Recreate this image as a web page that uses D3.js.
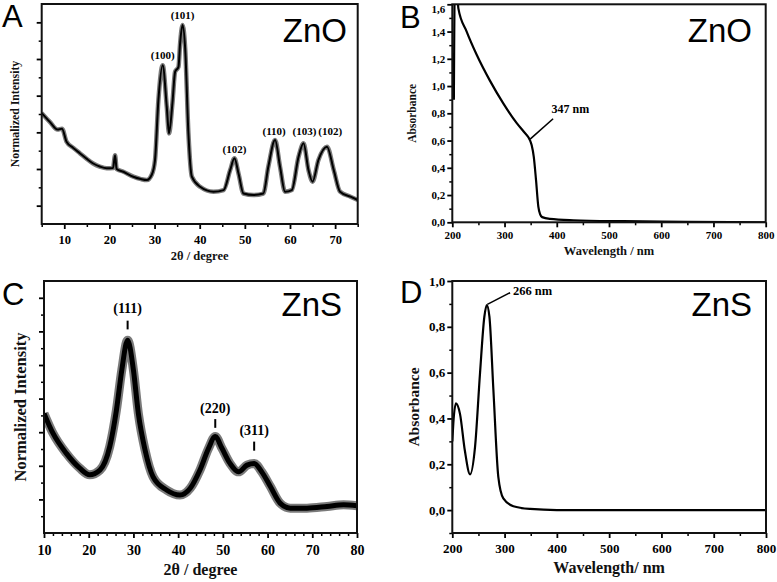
<!DOCTYPE html>
<html>
<head>
<meta charset="utf-8">
<script src="https://cdn.jsdelivr.net/npm/d3@7"></script>
<style>
  body { margin: 0; background: #fff; }
  svg { display: block; }
</style>
</head>
<body>
<div id="chart"></div>
<script>
// Panel A: XRD ZnO
const znoAngle = [5, 6.8, 8.5, 9.5, 10.5, 12, 13.5, 15, 16.4, 18, 19.4, 20.8, 21.25, 21.6, 23.1, 25.3, 27, 28.3, 29.4, 30.1, 30.85, 31.8, 32.7, 33.2, 33.96, 34.55, 35.3, 35.66, 36.2, 36.8, 37.5, 38.26, 40.1, 43.05, 45.3, 46.75, 47.7, 48.6, 49.7, 51.9, 54.1, 55.2, 56.7, 57.8, 58.9, 60.4, 61.9, 63.0, 64.1, 65.0, 66.3, 68.2, 69.7, 71.1, 73.4, 75];
const znoIntensity = [6.05, 5.57, 5.15, 5.2, 4.49, 4.15, 3.85, 3.55, 3.3, 3.12, 3.04, 3.05, 3.75, 3.0, 2.85, 2.58, 2.45, 2.4, 2.7, 3.49, 6.76, 8.66, 6.4, 4.94, 6.6, 8.3, 8.57, 9.85, 10.85, 9.5, 4.94, 2.58, 2.03, 1.76, 1.85, 2.94, 3.58, 2.75, 1.66, 1.58, 1.66, 3.12, 4.58, 3.12, 1.76, 1.85, 3.67, 4.4, 2.94, 2.31, 3.49, 4.22, 2.94, 1.76, 1.49, 1.31];
const znoPeakNames = ["(100)", "(101)", "(102)", "(110)", "(103)", "(102)"];
const znoPeakAngle = [31.8, 36.2, 47.7, 56.5, 63.2, 68.9];
const znoPeakLabelY = [9.0, 11.17, 3.87, 4.85, 4.85, 4.85];

// Panel B: UV-Vis ZnO
const znoWavelength = [203, 205, 208, 211.6, 227.5, 246.7, 272, 297.6, 323, 337, 346, 349, 352, 356, 360.3, 364.7, 368, 372, 387, 431.7, 527.5, 650, 800];
const znoAbsorbance = [0.9, 1.8, 1.8, 1.57, 1.40, 1.23, 1.04, 0.873, 0.73, 0.665, 0.622, 0.60, 0.565, 0.48, 0.31, 0.115, 0.06, 0.038, 0.025, 0.015, 0.008, 0.004, 0.0];

// Panel C: XRD ZnS
const znsAngle = [10, 12, 15, 18, 20.2, 22.5, 24.7, 26.2, 27.4, 28.7, 30, 31.1, 32.6, 34.4, 37.4, 40.4, 42.7, 44.9, 46.8, 48.3, 49.8, 51.6, 53.5, 55.4, 57, 58.7, 60.6, 62.8, 65.1, 68.8, 73.3, 77, 80];
const znsIntensity = [3.56, 2.97, 2.37, 1.93, 1.73, 1.87, 2.57, 3.66, 4.85, 5.74, 4.85, 3.56, 2.47, 1.67, 1.28, 1.13, 1.33, 1.88, 2.52, 2.87, 2.52, 2.07, 1.82, 2.02, 2.07, 1.82, 1.39, 0.89, 0.74, 0.74, 0.79, 0.84, 0.81];
const znsPeakNames = ["(111)", "(220)", "(311)"];
const znsPeakAngle = [28.7, 48.3, 57];
const znsPeakLabelY = [6.55, 3.57, 2.92];
const znsPeakTickTop = [6.32, 3.39, 2.72];
const znsPeakTickBottom = [6.06, 3.13, 2.45];

// Panel D: UV-Vis ZnS
const znsWavelength = [200, 202, 207, 214.7, 224, 234, 243.5, 253, 261.3, 266, 271, 278.6, 288, 297.6, 316.8, 348.8, 400, 600, 800];
const znsAbsorbance = [0.30, 0.38, 0.466, 0.42, 0.26, 0.156, 0.276, 0.597, 0.844, 0.895, 0.844, 0.524, 0.145, 0.051, 0.017, 0.005, 0.0, 0.0, 0.0];

const serif = "'Liberation Serif', 'Times New Roman', serif";
const sans = "'Liberation Sans', Arial, sans-serif";
const commaFmt = (d) => d3.format(".1f")(d).replace(".", ",");

const svg = d3.select("#chart").append("svg")
  .attr("width", 777)
  .attr("height", 582);

function drawPanel(p) {
  const x = d3.scaleLinear().domain(p.xDomain).range([p.left, p.right]);
  const y = d3.scaleLinear().domain(p.yDomain).range([p.bottom, p.top]);
  const g = svg.append("g");

  // minor ticks
  g.append("g")
    .attr("transform", "translate(0," + p.bottom + ")")
    .call(d3.axisBottom(x).tickValues(p.xMinor).tickSize(3).tickFormat(""))
    .call((a) => a.select(".domain").remove())
    .selectAll("line").attr("stroke-width", 1.5);
  g.append("g")
    .attr("transform", "translate(" + p.left + ",0)")
    .call(d3.axisLeft(y).tickValues(p.yMinor).tickSize(3).tickFormat(""))
    .call((a) => a.select(".domain").remove())
    .selectAll("line").attr("stroke-width", 1.5);

  // major ticks
  const xAxis = g.append("g")
    .attr("transform", "translate(0," + p.bottom + ")")
    .call(d3.axisBottom(x).tickValues(p.xTicks).tickSize(5).tickPadding(p.xPad).tickFormat(d3.format("d")));
  xAxis.select(".domain").remove();
  xAxis.selectAll("line").attr("stroke-width", 1.8);
  xAxis.selectAll("text")
    .style("font-family", serif).style("font-weight", "bold")
    .style("font-size", p.tickSize + "px").attr("fill", "#000");

  const yAxis = g.append("g")
    .attr("transform", "translate(" + p.left + ",0)")
    .call(d3.axisLeft(y).tickValues(p.yTicks).tickSize(5).tickPadding(2)
      .tickFormat(p.yLabels ? commaFmt : ""));
  yAxis.select(".domain").remove();
  yAxis.selectAll("line").attr("stroke-width", 1.8);
  yAxis.selectAll("text")
    .style("font-family", serif).style("font-weight", "bold")
    .style("font-size", p.tickSize + "px").attr("fill", "#000");
  // keep the top label inside the picture
  yAxis.selectAll(".tick").filter((d) => y(d) < 8)
    .select("text").attr("dy", "0.75em");

  // clip + curve
  const clipId = "clip-" + p.id;
  svg.append("clipPath").attr("id", clipId)
    .append("rect")
    .attr("x", p.left).attr("y", p.top)
    .attr("width", p.right - p.left).attr("height", p.bottom - p.top);

  const pts = p.xs.map((v, i) => [v, p.ys[i]]);
  const line = d3.line()
    .x((d) => x(d[0]))
    .y((d) => y(d[1]))
    .curve(d3.curveMonotoneX);

  const curves = g.append("g").attr("clip-path", "url(#" + clipId + ")");
  if (p.halo) {
    curves.append("path")
      .datum(pts)
      .attr("d", line)
      .attr("fill", "none")
      .attr("stroke", "#222")
      .attr("stroke-opacity", 0.6)
      .attr("stroke-width", p.halo)
      .attr("stroke-linejoin", "round");
  }
  curves.append("path")
    .datum(pts)
    .attr("d", line)
    .attr("fill", "none")
    .attr("stroke", "#000")
    .attr("stroke-width", p.lineWidth)
    .attr("stroke-linejoin", "round");

  // frame
  g.append("rect")
    .attr("x", p.left).attr("y", p.top)
    .attr("width", p.right - p.left).attr("height", p.bottom - p.top)
    .attr("fill", "none").attr("stroke", "#111").attr("stroke-width", 2);

  // axis titles
  g.append("text")
    .attr("x", (p.left + p.right) / 2)
    .attr("y", p.bottom + p.xTitleOffset)
    .attr("text-anchor", "middle")
    .style("font-family", serif).style("font-weight", "bold")
    .style("font-size", p.titleSize + "px").attr("fill", "#111")
    .text(p.xTitle);
  g.append("text")
    .attr("transform", "translate(" + p.yTitleX + "," + (p.top + p.bottom) / 2 + ") rotate(-90)")
    .attr("text-anchor", "middle")
    .attr("dominant-baseline", "central")
    .style("font-family", serif).style("font-weight", "bold")
    .style("font-size", p.yTitleSize + "px").attr("fill", "#111")
    .text(p.yTitle);

  // panel letter and compound name
  g.append("text")
    .attr("x", p.letterX).attr("y", p.letterY)
    .style("font-family", sans).style("font-size", "31px").attr("fill", "#000")
    .text(p.letter);
  g.append("text")
    .attr("x", p.nameX).attr("y", p.nameY)
    .attr("text-anchor", "end")
    .style("font-family", sans).style("font-size", "33px").attr("fill", "#000")
    .text(p.name);

  return { g, x, y };
}

// A
const a = drawPanel({
  id: "a", left: 41.7, right: 357.7, top: 4, bottom: 224,
  xDomain: [5, 75], yDomain: [0, 12],
  xTicks: [10, 20, 30, 40, 50, 60, 70], xMinor: [5, 15, 25, 35, 45, 55, 65, 75],
  yTicks: [1, 3, 5, 7, 9, 11], yMinor: [2, 4, 6, 8, 10], yLabels: false,
  xPad: 6, tickSize: 12.5, titleSize: 12.5, yTitleSize: 11.8,
  xTitle: "2θ / degree", xTitleOffset: 36, yTitle: "Normalized Intensity", yTitleX: 15,
  xs: znoAngle, ys: znoIntensity, lineWidth: 2, halo: 4.5,
  letter: "A", letterX: 2, letterY: 27, name: "ZnO", nameX: 347, nameY: 42
});
a.g.selectAll(".peak")
  .data(znoPeakNames)
  .enter().append("text")
  .attr("x", (d, i) => a.x(znoPeakAngle[i]))
  .attr("y", (d, i) => a.y(znoPeakLabelY[i]))
  .attr("text-anchor", "middle")
  .style("font-family", serif).style("font-weight", "bold").style("font-size", "11px")
  .text((d) => d);

// B
const b = drawPanel({
  id: "b", left: 452.3, right: 765.7, top: 4.3, bottom: 222.3,
  xDomain: [200, 800], yDomain: [0, 1.6],
  xTicks: [200, 300, 400, 500, 600, 700, 800], xMinor: [250, 350, 450, 550, 650, 750],
  yTicks: [0, 0.2, 0.4, 0.6, 0.8, 1.0, 1.2, 1.4, 1.6], yMinor: [0.1, 0.3, 0.5, 0.7, 0.9, 1.1, 1.3, 1.5], yLabels: true,
  xPad: 4, tickSize: 11, titleSize: 12.5, yTitleSize: 11.5,
  xTitle: "Wavelength / nm", xTitleOffset: 33, yTitle: "Absorbance", yTitleX: 412,
  xs: znoWavelength, ys: znoAbsorbance, lineWidth: 2.2, halo: 0,
  letter: "B", letterX: 400, letterY: 28, name: "ZnO", nameX: 752, nameY: 42
});
b.g.append("line")
  .attr("x1", b.x(349)).attr("y1", b.y(0.61))
  .attr("x2", b.x(393)).attr("y2", b.y(0.76))
  .attr("stroke", "#000").attr("stroke-width", 1.6);
b.g.append("text")
  .attr("x", b.x(390)).attr("y", b.y(0.80))
  .style("font-family", serif).style("font-weight", "bold").style("font-size", "12px")
  .text("347 nm");

// C
const c = drawPanel({
  id: "c", left: 44, right: 357, top: 281, bottom: 533,
  xDomain: [10, 80], yDomain: [0, 7.5],
  xTicks: [10, 20, 30, 40, 50, 60, 70, 80],
  xMinor: d3.range(12, 80, 2).filter((v) => v % 10 !== 0),
  yTicks: [1, 2, 3, 4, 5, 6, 7], yMinor: [0.5, 1.5, 2.5, 3.5, 4.5, 5.5, 6.5], yLabels: false,
  xPad: 7, tickSize: 14, titleSize: 16, yTitleSize: 16.5,
  xTitle: "2θ / degree", xTitleOffset: 42, yTitle: "Normalized Intensity", yTitleX: 20,
  xs: znsAngle, ys: znsIntensity, lineWidth: 5, halo: 9,
  letter: "C", letterX: 2, letterY: 305, name: "ZnS", nameX: 342, nameY: 316
});
c.g.selectAll(".peak")
  .data(znsPeakNames)
  .enter().append("text")
  .attr("x", (d, i) => c.x(znsPeakAngle[i]))
  .attr("y", (d, i) => c.y(znsPeakLabelY[i]))
  .attr("text-anchor", "middle")
  .style("font-family", serif).style("font-weight", "bold").style("font-size", "14px")
  .text((d) => d);
c.g.selectAll(".peakTick")
  .data(znsPeakNames)
  .enter().append("line")
  .attr("x1", (d, i) => c.x(znsPeakAngle[i]))
  .attr("x2", (d, i) => c.x(znsPeakAngle[i]))
  .attr("y1", (d, i) => c.y(znsPeakTickTop[i]))
  .attr("y2", (d, i) => c.y(znsPeakTickBottom[i]))
  .attr("stroke", "#000").attr("stroke-width", 2);

// D
const dPanel = drawPanel({
  id: "d", left: 452.3, right: 766, top: 281, bottom: 533,
  xDomain: [200, 800], yDomain: [-0.1, 1.0],
  xTicks: [200, 300, 400, 500, 600, 700, 800], xMinor: [250, 350, 450, 550, 650, 750],
  yTicks: [0, 0.2, 0.4, 0.6, 0.8, 1.0], yMinor: [-0.1, 0.1, 0.3, 0.5, 0.7, 0.9], yLabels: true,
  xPad: 6, tickSize: 13, titleSize: 16, yTitleSize: 15.5,
  xTitle: "Wavelength/ nm", xTitleOffset: 40, yTitle: "Absorbance", yTitleX: 413,
  xs: znsWavelength, ys: znsAbsorbance, lineWidth: 2.2, halo: 0,
  letter: "D", letterX: 400, letterY: 303, name: "ZnS", nameX: 752, nameY: 316
});
dPanel.g.append("line")
  .attr("x1", dPanel.x(267)).attr("y1", dPanel.y(0.898))
  .attr("x2", dPanel.x(310.5)).attr("y2", dPanel.y(0.949))
  .attr("stroke", "#000").attr("stroke-width", 1.6);
dPanel.g.append("text")
  .attr("x", dPanel.x(316)).attr("y", dPanel.y(0.939))
  .style("font-family", serif).style("font-weight", "bold").style("font-size", "12.5px")
  .text("266 nm");
</script>
</body>
</html>
